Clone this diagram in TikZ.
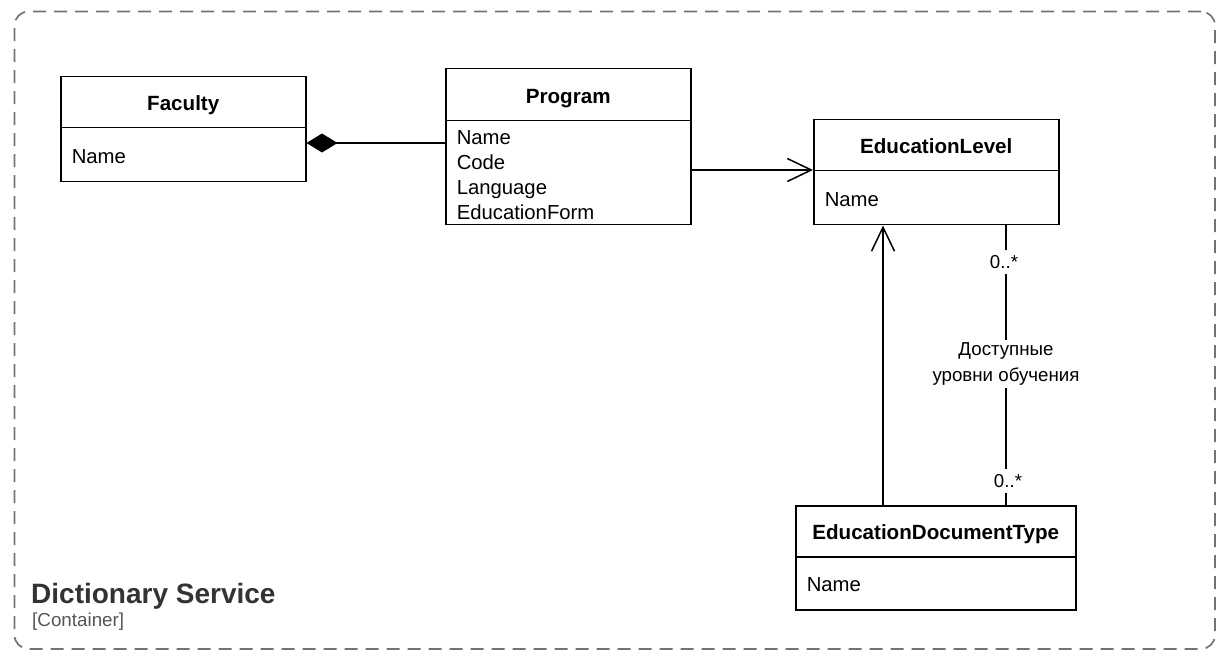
\documentclass[tikz,border=0pt]{standalone}
\usepackage{fontspec}
\setmainfont{Liberation Sans}
\usetikzlibrary{arrows.meta,calc}
\definecolor{bordergray}{HTML}{737373}
\definecolor{titlegray}{HTML}{333333}
\definecolor{subgray}{HTML}{555555}
\begin{document}
\begin{tikzpicture}[x=1pt,y=-1pt,
  classhead/.style={draw=black, line width=1.5pt, anchor=north west, inner sep=0pt,
    align=center, text height=17pt, text depth=0pt, font=\fontsize{20.6}{24}\selectfont\bfseries},
  classbody/.style={draw=black, line width=1.5pt, anchor=north west, inner xsep=11pt,
    inner ysep=0pt, align=left, font=\fontsize{20.3}{24.8}\selectfont},
  oneline/.style={text height=16.6pt, text depth=0pt},
  conn/.style={draw=black, line width=1.5pt},
  openarrow/.style={-{Straight Barb[length=24pt,width=23pt]}},
  composition/.style={-{Diamond[length=31pt,width=19pt]}},
  mult/.style={fill=white, inner xsep=2pt, inner ysep=5pt, font=\fontsize{18.7}{22}\selectfont},
  assoclabel/.style={fill=white, inner sep=3pt, align=center, font=\fontsize{18.7}{26}\selectfont},
  container/.style={draw=bordergray, line width=1.7pt, dash pattern=on 13pt off 8pt,
    rounded corners=14pt, inner sep=0pt}
]
\useasboundingbox (0,0) rectangle (1231,660);

% container
\node[container, minimum width=1200.5pt, minimum height=637.5pt] (cont) at (614.75,330.25) {};

% Faculty
\node[classhead, minimum width=245pt, minimum height=51pt] (fac-h) at (60,76) {Faculty};
\node[classbody, oneline, text width=223pt, minimum height=54pt] (fac-b) at (60,127) {Name};

% Program
\node[classhead, minimum width=245pt, minimum height=52pt] (prog-h) at (445,68) {Program};
\node[classbody, text height=19pt, text width=223pt, minimum height=104pt] (prog-b) at (445,120)
  {Name\\Code\\Language\\EducationForm};

% EducationLevel
\node[classhead, minimum width=245pt, minimum height=51pt] (el-h) at (813,119) {EducationLevel};
\node[classbody, oneline, text width=223pt, minimum height=54pt] (el-b) at (813,170) {Name};

% EducationDocumentType
\node[classhead, minimum width=280pt, minimum height=51pt] (edt-h) at (795,505) {EducationDocumentType};
\node[classbody, oneline, text width=258pt, minimum height=53pt] (edt-b) at (795,556) {Name};

% helper coordinates
\coordinate (y143) at (0,143);
\coordinate (xl) at (883,0);
\coordinate (xr) at (1006,0);

% connectors
\draw[conn, composition] (prog-b.west |- y143) -- (fac-b.east |- y143);
\draw[conn, openarrow] (prog-b.east |- el-b.north west) -- (el-b.north west);
\draw[conn, openarrow] (xl |- edt-h.north) -- (xl |- el-b.south);
\draw[conn] (xr |- el-b.south) -- (xr |- edt-h.north);

% association labels
\node[mult] (m1) at (1004,262) {0..*};
\node[assoclabel] (alabel) at (1006,364) {Доступные\\уровни обучения};
\node[mult] (m2) at (1008,481) {0..*};

% container title
\node[anchor=base west, inner sep=0pt, text=titlegray, font=\fontsize{28}{32}\selectfont\bfseries] (title) at (31,603) {Dictionary Service};
\node[anchor=base west, inner sep=0pt, text=subgray, font=\fontsize{18.8}{22}\selectfont] (stereo) at (32,626.5) {[Container]};
\end{tikzpicture}
\end{document}
